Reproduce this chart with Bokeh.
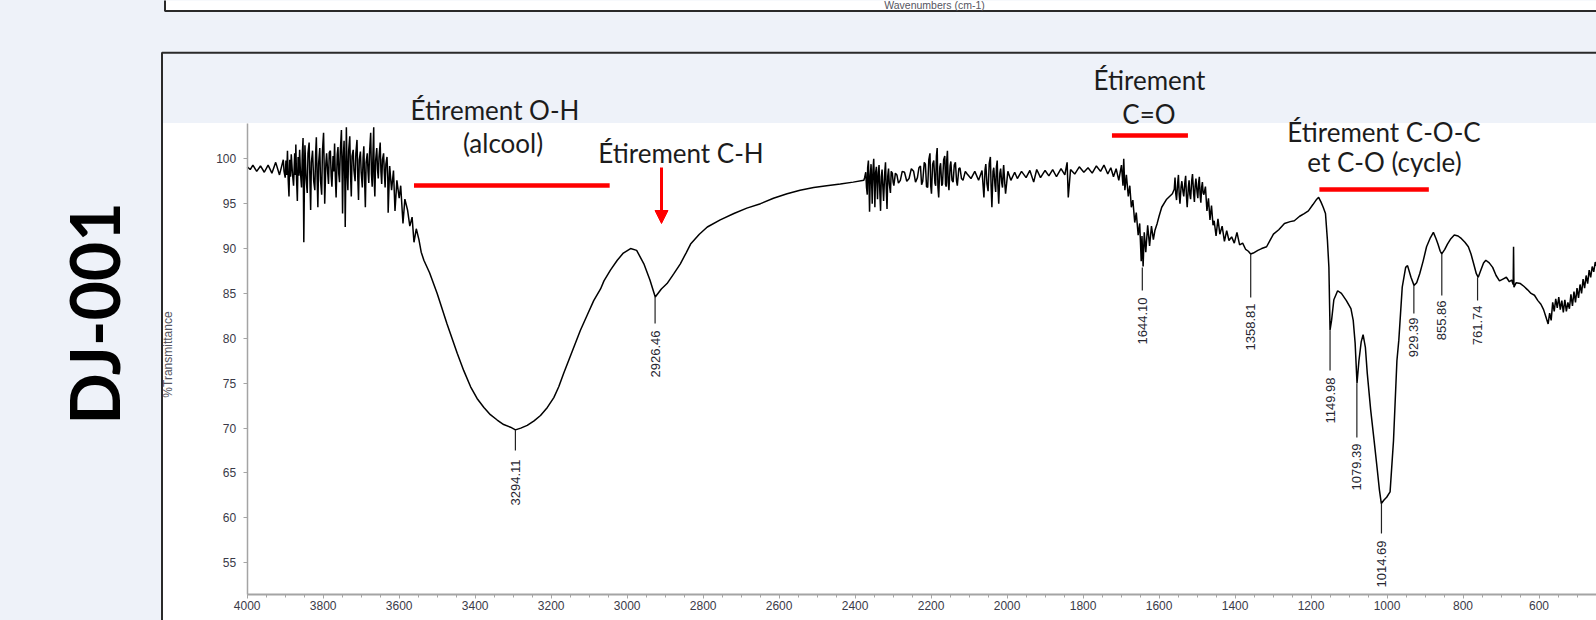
import math
from bokeh.plotting import figure
from bokeh.models import Range1d, LinearAxis, FixedTicker, Arrow, NormalHead, GlobalInlineStyleSheet
from bokeh.core.properties import value
from bokeh.embed import file_html
from bokeh.resources import INLINE

# ---------------- data ----------------
spectrum = [
    (4000, 99.1), (3992, 98.8), (3985, 99.3), (3975, 98.6), (3965, 99.2), (3955, 98.5), (3945, 99.3),
    (3935, 98.4), (3925, 99.6), (3915, 98.2),
    (3905, 99.9), (3903, 98.6), (3900, 97.9), (3898, 99.8), (3896, 98.2), (3894, 100.9), (3892, 97.6),
    (3890, 95.8), (3888, 99.9), (3886, 98.0), (3884, 100.5), (3881, 98.4), (3878, 97.0), (3875, 100.6),
    (3873, 98.2), (3872, 101.6), (3870, 97.6), (3868, 95.3), (3866, 100.2), (3864, 98.1), (3862, 101.0),
    (3860, 98.6), (3857, 96.8), (3855, 100.4), (3853, 102.3), (3851, 90.7), (3849, 99.0), (3848, 101.5),
    (3845, 97.8), (3842, 96.2), (3840, 100.6), (3837, 101.8), (3835, 97.9), (3833, 94.3), (3831, 99.6),
    (3828, 100.9), (3825, 97.5), (3822, 96.5), (3820, 100.4), (3818, 102.4), (3816, 98.0), (3814, 94.6),
    (3812, 99.5), (3809, 101.2), (3807, 97.6), (3804, 96.0), (3802, 100.8), (3799, 102.9), (3797, 98.3),
    (3796, 95.0), (3793, 99.4), (3791, 100.6), (3788, 98.4), (3786, 97.2), (3784, 100.7), (3781, 100.9),
    (3779, 98.1), (3777, 96.9), (3774, 100.3), (3772, 98.6), (3770, 101.7), (3768, 98.0), (3766, 95.7),
    (3763, 100.5), (3761, 101.3), (3759, 98.3), (3757, 97.4), (3755, 100.8), (3752, 103.2), (3750, 97.9),
    (3749, 93.9), (3747, 100.2), (3745, 102.0), (3743, 97.5), (3742, 92.4), (3740, 99.8), (3739, 103.5),
    (3737, 98.4), (3735, 96.5), (3733, 100.9), (3730, 102.5), (3728, 98.2), (3726, 95.8), (3724, 100.3),
    (3721, 101.0), (3719, 98.7), (3716, 97.5), (3714, 100.6), (3711, 102.1), (3709, 98.0), (3707, 95.4),
    (3705, 99.9), (3702, 100.8), (3700, 98.5), (3697, 96.8), (3695, 100.1), (3693, 101.4), (3691, 97.7),
    (3689, 94.6), (3687, 99.6), (3684, 100.6), (3682, 98.6), (3680, 97.3), (3678, 100.7), (3675, 102.9),
    (3673, 98.3), (3671, 96.9), (3669, 100.5), (3667, 103.5), (3666, 98.0), (3664, 95.8), (3662, 99.8),
    (3659, 101.2), (3657, 98.8), (3655, 97.8), (3653, 100.2), (3650, 101.8), (3648, 98.6), (3646, 97.2),
    (3644, 99.9), (3641, 100.6), (3639, 98.4), (3637, 96.8), (3635, 99.4), (3632, 100.2), (3630, 97.9),
    (3629, 94.0), (3625, 99.2), (3620, 96.5), (3615, 98.7), (3611, 94.2), (3606, 97.6),
    (3600, 95.6), (3596, 97.0), (3590, 92.8), (3585, 95.5), (3578, 94.3), (3572, 92.5), (3566, 93.5),
    (3561, 90.7), (3555, 92.2), (3548, 91.0), (3542, 89.6), (3535, 88.7), (3520, 87.3), (3500, 85.0),
    (3474, 81.6), (3447, 78.3), (3430, 76.4), (3412, 74.6), (3395, 73.3), (3377, 72.3), (3360, 71.5),
    (3342, 70.9), (3325, 70.4), (3307, 70.1), (3294, 69.8), (3280, 70.0), (3263, 70.3), (3245, 70.8),
    (3228, 71.4), (3210, 72.3), (3193, 73.4), (3180, 74.6), (3167, 76.1), (3145, 78.5), (3123, 80.9),
    (3105, 82.6), (3088, 84.2), (3070, 85.5), (3061, 86.4), (3044, 87.6), (3026, 88.7), (3010, 89.5),
    (2991, 90.0), (2975, 89.8), (2956, 88.3), (2940, 86.5), (2926, 84.6), (2910, 85.5), (2895, 86.1),
    (2877, 87.2), (2860, 88.3), (2845, 89.5), (2833, 90.5), (2810, 91.6), (2789, 92.4), (2755, 93.2),
    (2719, 93.9), (2685, 94.5), (2649, 95.0), (2615, 95.6), (2579, 96.1), (2545, 96.5), (2509, 96.8),
    (2475, 97.0), (2439, 97.2), (2405, 97.4), (2377, 97.6),
    (2375, 97.9), (2372, 98.5), (2370, 96.8), (2368, 96.0), (2367, 99.0), (2365, 99.8), (2363, 96.3),
    (2362, 94.1), (2360, 98.2), (2358, 99.4), (2356, 96.6), (2355, 95.0), (2353, 98.7), (2351, 100.0),
    (2349, 96.9), (2348, 94.6), (2346, 98.5), (2344, 99.1), (2342, 96.7), (2341, 95.5), (2339, 98.4),
    (2337, 99.3), (2335, 96.4), (2333, 94.2), (2331, 98.0), (2329, 98.8), (2327, 96.9), (2325, 95.3),
    (2322, 98.5), (2320, 99.6), (2318, 96.6), (2316, 94.4), (2314, 98.1), (2312, 98.9), (2310, 97.2),
    (2307, 96.2), (2305, 98.6), (2302, 98.4), (2300, 97.4), (2298, 97.0), (2294, 98.4), (2290, 98.2),
    (2286, 97.3), (2281, 97.6), (2276, 98.6), (2270, 98.5), (2264, 97.5), (2258, 97.8), (2252, 98.9),
    (2246, 98.6), (2241, 97.4), (2236, 97.9), (2232, 99.0), (2228, 99.2), (2225, 97.1), (2222, 97.5),
    (2218, 99.6), (2215, 99.4), (2212, 96.9), (2209, 96.8), (2206, 99.9), (2203, 100.6), (2201, 97.0),
    (2199, 96.1), (2196, 99.4), (2193, 99.8), (2190, 97.3), (2188, 97.0), (2186, 100.3), (2184, 101.2),
    (2182, 96.8), (2180, 95.7), (2177, 99.1), (2175, 99.5), (2172, 97.0), (2170, 97.2), (2167, 99.9),
    (2164, 100.3), (2162, 97.1), (2160, 96.9), (2159, 99.8), (2157, 100.9), (2155, 97.4), (2153, 96.5),
    (2150, 99.2), (2148, 99.7), (2145, 97.6), (2142, 97.4), (2139, 99.3), (2136, 99.6), (2133, 97.5),
    (2131, 97.0), (2127, 98.9), (2124, 99.0), (2120, 97.8), (2116, 97.6), (2110, 98.6), (2105, 98.3),
    (2095, 97.8), (2085, 98.6), (2075, 97.6), (2066, 98.7), (2061, 95.7), (2058, 98.8), (2056, 99.4),
    (2053, 97.2), (2050, 96.4), (2047, 99.5), (2044, 100.2), (2042, 96.9), (2040, 94.6), (2037, 98.6),
    (2035, 99.0), (2032, 97.1), (2030, 96.3), (2028, 99.1), (2026, 99.8), (2024, 96.8), (2022, 95.0),
    (2019, 98.4), (2017, 98.9), (2014, 97.3), (2012, 96.8), (2010, 98.8), (2009, 99.3), (2006, 97.2),
    (2004, 96.1), (1998, 98.6), (1990, 97.6), (1980, 98.5), (1973, 97.8),
    (1962, 98.6), (1950, 97.9), (1940, 98.7), (1930, 97.4), (1922, 98.8), (1912, 97.9), (1900, 98.7),
    (1890, 98.1), (1880, 98.8), (1870, 98.0), (1858, 98.9), (1848, 98.2), (1842, 99.6), (1839, 95.7),
    (1833, 98.8), (1822, 98.3), (1810, 99.1), (1798, 98.5), (1787, 99.0), (1776, 98.4), (1765, 99.2),
    (1754, 98.6), (1745, 99.3), (1735, 98.3), (1727, 99.0), (1720, 98.0), (1713, 98.9), (1706, 97.6),
    (1699, 99.3), (1695, 97.0), (1693, 100.0), (1690, 96.5), (1686, 98.2), (1681, 95.8), (1677, 97.0),
    (1673, 94.6), (1669, 95.4), (1664, 92.9), (1660, 94.0), (1655, 91.5), (1651, 92.8), (1647, 88.6),
    (1645, 91.4), (1642, 88.0), (1639, 91.8), (1635, 89.6), (1630, 92.6), (1625, 90.3), (1620, 92.5),
    (1615, 91.0), (1611, 92.0), (1605, 92.8), (1600, 93.6), (1593, 94.6), (1580, 95.5), (1565, 96.1),
    (1560, 96.6), (1558, 97.9), (1556, 96.1), (1554, 95.4), (1551, 97.3), (1549, 98.2), (1547, 96.0),
    (1545, 95.0), (1542, 96.9), (1540, 97.5), (1537, 96.3), (1535, 95.8), (1532, 97.4), (1530, 98.1),
    (1528, 95.9), (1526, 94.6), (1523, 96.8), (1521, 97.6), (1519, 96.0), (1517, 95.5), (1514, 97.6),
    (1512, 98.3), (1509, 96.1), (1507, 95.2), (1505, 97.0), (1503, 97.8), (1500, 96.3), (1498, 95.6),
    (1496, 97.3), (1494, 98.0), (1492, 96.0), (1490, 95.1), (1488, 96.8), (1486, 97.4), (1484, 96.2),
    (1482, 96.0), (1478, 96.9), (1474, 94.2), (1470, 95.6),
    (1466, 93.2), (1462, 94.8), (1458, 92.6), (1455, 93.1), (1450, 91.4), (1445, 93.3), (1440, 91.6),
    (1434, 92.5), (1428, 90.8), (1422, 92.0), (1416, 90.9), (1409, 91.3), (1402, 90.6), (1395, 91.8),
    (1388, 90.4), (1380, 90.6), (1372, 89.9), (1365, 89.7), (1359, 89.4), (1352, 89.5), (1340, 89.8),
    (1330, 90.0), (1317, 90.2), (1308, 90.9), (1299, 91.6), (1285, 92.1), (1270, 92.8), (1255, 93.0),
    (1244, 93.1), (1230, 93.6), (1218, 93.9), (1207, 94.2), (1195, 94.9), (1185, 95.5), (1180, 95.7),
    (1174, 95.2), (1168, 94.6), (1162, 93.9), (1157, 91.0), (1153, 87.9), (1150, 80.9), (1146, 82.0),
    (1140, 84.3), (1130, 85.3), (1120, 85.0), (1107, 84.2), (1095, 83.3), (1089, 82.0), (1084, 79.5),
    (1079, 75.0), (1074, 77.5), (1068, 79.6), (1063, 80.4), (1057, 79.0), (1052, 76.1), (1043, 72.0),
    (1034, 68.6), (1026, 65.5), (1020, 63.1), (1015, 61.6), (1008, 62.0), (1001, 62.3), (992, 62.9),
    (983, 68.6), (974, 77.5), (969, 79.8), (960, 85.7), (951, 87.9), (946, 88.1), (937, 86.8),
    (929, 85.9), (922, 86.2), (914, 87.2), (905, 88.6), (896, 90.2), (886, 91.2), (878, 91.8),
    (871, 91.1), (866, 90.5), (860, 89.7), (856, 89.4), (848, 89.9), (841, 90.5), (832, 91.1),
    (823, 91.5), (813, 91.4), (804, 91.1), (795, 90.7), (786, 90.2), (779, 89.4), (772, 88.3),
    (765, 87.2), (760, 86.8), (753, 87.6), (746, 88.4), (740, 88.7), (731, 88.4), (722, 87.9),
    (713, 87.0), (704, 86.4), (695, 86.6), (686, 86.8), (678, 86.3), (672, 86.5), (668, 86.0),
    (667, 90.2), (666, 85.7), (660, 86.2), (649, 86.1), (640, 85.8), (630, 85.4), (621, 85.0),
    (612, 84.8), (603, 84.2), (595, 83.8), (588, 83.2), (582, 82.4), (576, 81.6), (572, 82.8),
    (568, 82.0), (564, 84.0), (560, 83.0), (556, 84.4), (552, 83.4), (548, 84.6), (544, 83.2),
    (540, 84.2), (536, 82.9), (532, 84.3), (528, 83.0), (524, 84.0), (520, 83.3), (516, 84.9),
    (512, 83.6), (508, 85.2), (504, 84.0), (500, 85.6), (496, 84.5), (492, 86.0), (488, 85.0),
    (484, 86.6), (480, 85.6), (476, 87.0), (472, 86.1), (468, 87.6), (464, 86.8), (460, 88.0),
    (456, 87.4), (452, 88.5), (448, 88.0),
]
wavenumber = [w for w, t in spectrum]
transmittance = [t for w, t in spectrum]

peak_wavenumber = [3294.11, 2926.46, 1644.10, 1358.81, 1149.98, 1079.39, 1014.69, 929.39, 855.86, 761.74]
peak_transmittance = [69.8, 84.6, 87.9, 89.4, 80.9, 75.0, 61.6, 85.9, 89.4, 86.8]
peak_label = ["3294.11", "2926.46", "1644.10", "1358.81", "1149.98", "1079.39", "1014.69", "929.39", "855.86", "761.74"]

band_start = [3561, 1724, 1178]
band_end = [3046, 1524, 890]

x_ticks = [4000, 3800, 3600, 3400, 3200, 3000, 2800, 2600, 2400, 2200, 2000, 1800, 1600, 1400, 1200, 1000, 800, 600]
x_minor_ticks = list(range(4000, 449, -50))
y_ticks = [55, 60, 65, 70, 75, 80, 85, 90, 95, 100]

sample_name = "DJ-001"
x_title = "Wavenumbers (cm-1)"
y_title = "%Transmittance"

# ---------------- layout (pixels of the slide) ----------------
W, H = 1596, 620
WN_LEFT, WN_RIGHT = 4649.3, 448.7
T_BOTTOM, T_TOP = 48.57, 117.63
BLUE = "#EEF2F9"
INK = "#1c1c1c"
RED = "#FF0000"
AXIS = "#a4a4a4"
TICK_TXT = "#3a3a48"


def px_to_t(py):
    return T_TOP - py * (T_TOP - T_BOTTOM) / H


peak_line_end_px = [450, 323, 290, 297, 370, 437, 533, 313, 295, 300]
peak_text_top_px = [459, 330, 297, 303, 377, 443, 540, 317, 300, 305]
band_y_px = [185, 135, 189]

p = figure(width=W, height=H,
           x_range=Range1d(WN_LEFT, WN_RIGHT), y_range=Range1d(T_BOTTOM, T_TOP),
           x_axis_location=None, y_axis_location=None, title_location=None,
           output_backend="svg", toolbar_location=None, min_border=0,
           background_fill_color=BLUE, border_fill_color=BLUE, outline_line_color=None)
p.extra_x_ranges = {"px": Range1d(0, W)}
p.extra_y_ranges = {"px": Range1d(H, 0)}
p.grid.visible = False
p.stylesheets = [GlobalInlineStyleSheet(
    css="html, body { margin: 0; padding: 0; overflow: hidden; background-color: #EEF2F9; }")]

# slide boxes
p.quad(left=[164.5], right=[1700], top=[-40], bottom=[10.5], fill_color="white",
       line_color="#2a2a2a", line_width=2, x_range_name="px", y_range_name="px", level="underlay")
p.quad(left=[161.5], right=[1700], top=[52.3], bottom=[800], fill_color=BLUE,
       line_color="#2a2a2a", line_width=2, x_range_name="px", y_range_name="px", level="underlay")
p.quad(left=[162.5], right=[1700], top=[122.5], bottom=[800], fill_color="white",
       line_color=None, x_range_name="px", y_range_name="px", level="underlay")

# axes
xaxis = LinearAxis(fixed_location=51.5, bounds=(WN_RIGHT, 4000),
                   ticker=FixedTicker(ticks=x_ticks, minor_ticks=x_minor_ticks))
xaxis.major_tick_out = 4
xaxis.minor_tick_out = 3
xaxis.major_label_standoff = 3
xaxis.axis_line_width = 2
p.add_layout(xaxis, "below")

yaxis = LinearAxis(fixed_location=4000, bounds=(51.5, 103.9), ticker=FixedTicker(ticks=y_ticks))
yaxis.major_tick_out = 4
yaxis.major_label_standoff = 7
yaxis.axis_line_width = 1.5
p.add_layout(yaxis, "left")

for ax in (xaxis, yaxis):
    ax.axis_line_color = AXIS
    ax.major_tick_line_color = AXIS
    ax.minor_tick_line_color = AXIS
    ax.major_tick_in = 0
    ax.minor_tick_in = 0
    ax.major_label_text_font = "Liberation Sans"
    ax.major_label_text_font_size = "12px"
    ax.major_label_text_color = TICK_TXT

# spectrum
p.line(wavenumber, transmittance, line_color="black", line_width=1.5)

# peak labels
p.segment(x0=peak_wavenumber, y0=peak_transmittance, x1=peak_wavenumber,
          y1=[px_to_t(v) for v in peak_line_end_px], line_color="#222222", line_width=1.2)
p.text(x=peak_wavenumber, y=[px_to_t(v) for v in peak_text_top_px], text=peak_label,
       angle=math.pi / 2, text_align="right", text_baseline="middle",
       text_font=value("Liberation Sans"), text_font_size="13px", text_color="#262630")

# red band markers
p.segment(x0=band_start, x1=band_end, y0=[px_to_t(v) for v in band_y_px],
          y1=[px_to_t(v) for v in band_y_px], line_color=RED, line_width=4.5)
p.add_layout(Arrow(end=NormalHead(size=13, fill_color=RED, line_color=RED, line_width=1),
                   x_start=661, y_start=167, x_end=661, y_end=223,
                   line_color=RED, line_width=3, x_range_name="px", y_range_name="px"))


def ptext(x, y, txt, size, font="Lato", align="center", baseline="alphabetic",
          angle=0.0, color=INK, style="normal"):
    p.text(x=[x], y=[y], text=[txt], x_range_name="px", y_range_name="px",
           text_font=value(font), text_font_size=size, text_align=align,
           text_baseline=baseline, angle=angle, text_color=color, text_font_style=style)


ann_size = "26px"
ptext(494.5, 109.4, "Étirement O-H", ann_size)
ptext(502.5, 142.4, "(alcool)", ann_size)
ptext(680.5, 152.4, "Étirement C-H", ann_size)
ptext(1149, 79.4, "Étirement", ann_size)
ptext(1148.5, 113.4, "C=O", ann_size)
ptext(1383.5, 131.4, "Étirement C-O-C", ann_size)
ptext(1384, 161.4, "et C-O (cycle)", ann_size)

ptext(93.4, 313, sample_name, "68px", font="Lato", angle=math.pi / 2, style="bold", color="black")
ptext(167, 354, y_title, "12px", font="Liberation Sans", angle=math.pi / 2, color="#555560")
ptext(934, 4.5, x_title, "10.5px", font="Liberation Sans", baseline="middle", color="#555560")

open("out.html", "w").write(file_html(p, INLINE))
